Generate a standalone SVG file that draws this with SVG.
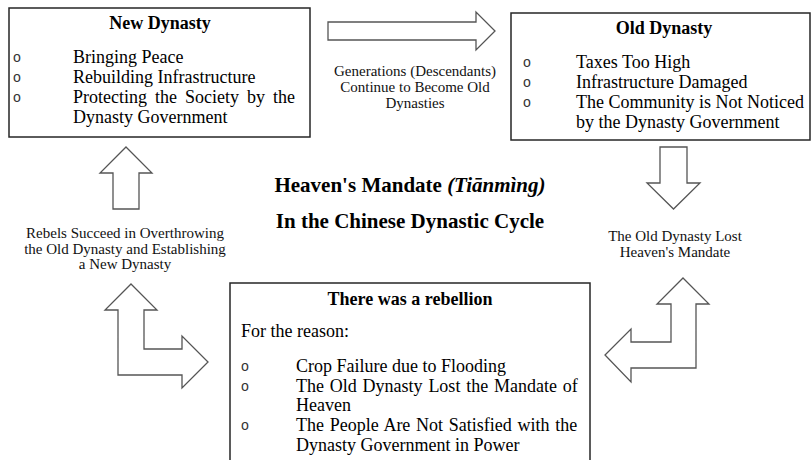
<svg xmlns="http://www.w3.org/2000/svg" width="811" height="460" viewBox="0 0 811 460">
<style>
.box{fill:#fff;stroke:#262626;stroke-width:1.5}
.arr{fill:#fff;stroke:#555;stroke-width:1.3;stroke-linejoin:miter}
text{font-family:"Liberation Serif","Times New Roman",serif;fill:#000}
.h{font-size:18px;font-weight:bold;text-anchor:middle}
.b{font-size:18px}
.bul{font-family:"Liberation Mono","Courier New",monospace;font-size:14px;text-anchor:middle;fill:#333}
.lab{font-size:15px;text-anchor:middle;fill:#111}
.t{font-size:21px;font-weight:bold;text-anchor:middle}
</style>
<rect width="811" height="460" fill="#fff"/>
<g id="connectors">
<polygon class="arr" points="328,22 476,22 476,12 495,31 476,50 476,40 328,40"/>
<polygon class="arr" points="660,147 687,147 687,183 700,183 673.5,209 647,183 660,183"/>
<polygon class="arr" points="683,278 709,304 696,304 696,368 631,368 631,382 605,355 631,329 631,342 671,342 671,304 657,304"/>
<polygon class="arr" points="131,284 157,310 144,310 144,349 182,349 182,336 208,362 182,388 182,375 118,375 118,310 105,310"/>
<polygon class="arr" points="126,147 152,173 139,173 139,209 113,209 113,173 100,173"/>
</g>
<g id="new-dynasty">
<rect class="box" x="9" y="8" width="301" height="129"/>
<text class="h" x="160" y="29">New Dynasty</text>
<text class="bul" x="17" y="62">o</text>
<text class="bul" x="17" y="82">o</text>
<text class="bul" x="17" y="102">o</text>
<text class="b" x="73" y="63">Bringing Peace</text>
<text class="b" x="73" y="83">Rebuilding Infrastructure</text>
<text class="b" x="73" y="103" word-spacing="3.5">Protecting the Society by the</text>
<text class="b" x="73" y="123">Dynasty Government</text>
</g>
<g id="old-dynasty">
<rect class="box" x="511" y="13" width="299" height="127"/>
<text class="h" x="664" y="34">Old Dynasty</text>
<text class="bul" x="527" y="67">o</text>
<text class="bul" x="527" y="87">o</text>
<text class="bul" x="527" y="107">o</text>
<text class="b" x="576" y="68">Taxes Too High</text>
<text class="b" x="576" y="88">Infrastructure Damaged</text>
<text class="b" x="576" y="108">The Community is Not Noticed</text>
<text class="b" x="576" y="128">by the Dynasty Government</text>
</g>
<g id="rebellion">
<rect class="box" x="230" y="283" width="360" height="190"/>
<text class="h" x="410" y="305">There was a rebellion</text>
<text class="b" x="241" y="337">For the reason:</text>
<text class="bul" x="245" y="371">o</text>
<text class="bul" x="245" y="391">o</text>
<text class="bul" x="245" y="430">o</text>
<text class="b" x="296" y="372">Crop Failure due to Flooding</text>
<text class="b" x="296" y="392" word-spacing="1.3">The Old Dynasty Lost the Mandate of</text>
<text class="b" x="296" y="411">Heaven</text>
<text class="b" x="296" y="431" word-spacing="1.2">The People Are Not Satisfied with the</text>
<text class="b" x="296" y="451">Dynasty Government in Power</text>
</g>
<g id="title">
<text class="t" x="410" y="192">Heaven's Mandate <tspan font-style="italic">(Tiānmìng)</tspan></text>
<text class="t" x="410" y="228">In the Chinese Dynastic Cycle</text>
</g>
<g id="label-generations">
<text class="lab" x="415" y="76">Generations (Descendants)</text>
<text class="lab" x="415" y="92">Continue to Become Old</text>
<text class="lab" x="415" y="108">Dynasties</text>
</g>
<g id="label-rebels">
<text class="lab" x="125" y="238">Rebels Succeed in Overthrowing</text>
<text class="lab" x="125" y="254">the Old Dynasty and Establishing</text>
<text class="lab" x="125" y="269">a New Dynasty</text>
</g>
<g id="label-lost">
<text class="lab" x="675" y="241">The Old Dynasty Lost</text>
<text class="lab" x="675" y="257">Heaven's Mandate</text>
</g>
</svg>
